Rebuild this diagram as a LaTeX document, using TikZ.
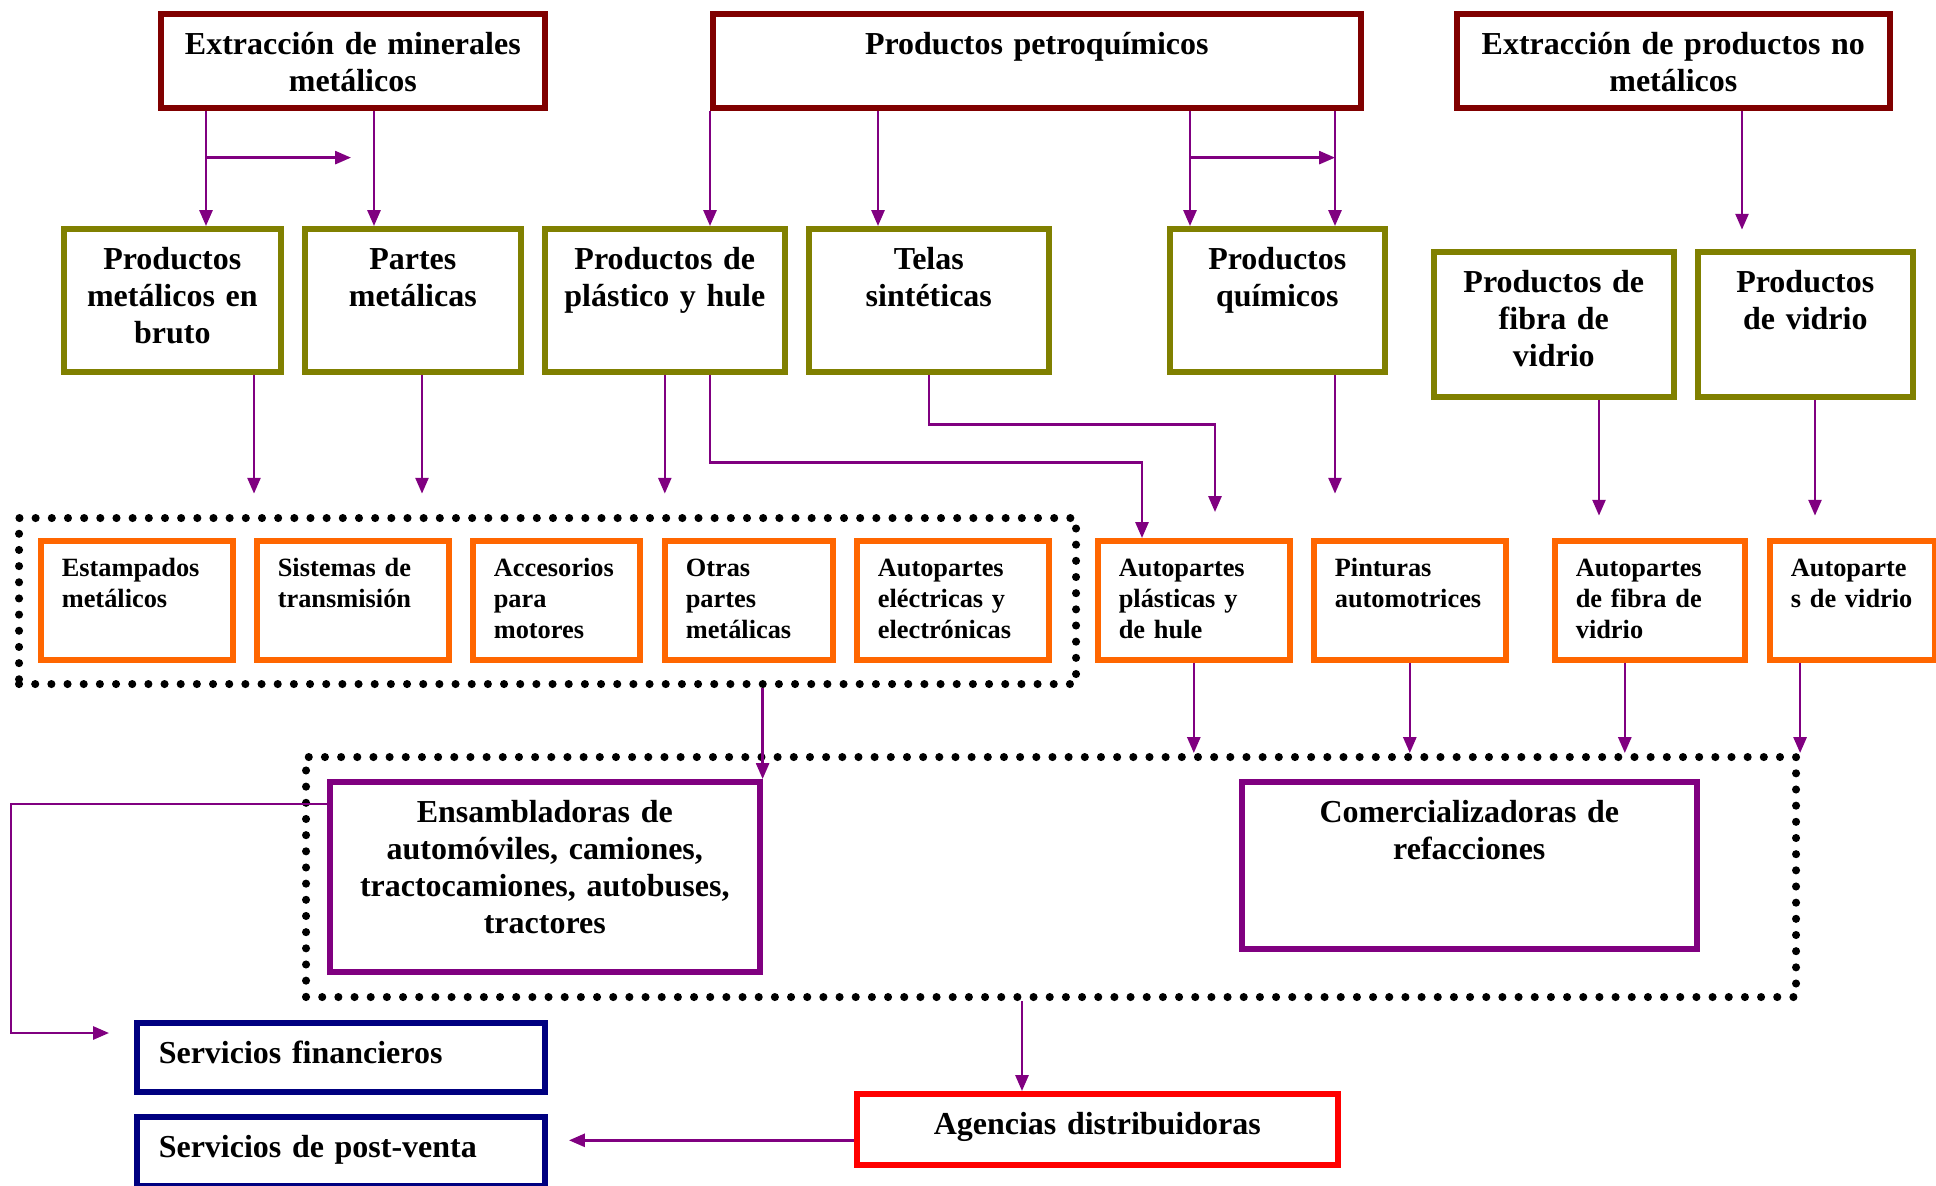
\documentclass[tikz,border=0pt]{standalone}
\usepackage{fontspec}
\setmainfont{Liberation Serif}
\usetikzlibrary{arrows.meta, positioning}

\definecolor{rawc}{HTML}{800000}
\definecolor{interc}{HTML}{808000}
\definecolor{partc}{HTML}{FF6600}
\definecolor{firmc}{HTML}{800080}
\definecolor{servc}{HTML}{000080}
\definecolor{agc}{HTML}{FF0000}
\definecolor{arrc}{HTML}{800080}

\begin{document}
\begin{tikzpicture}[
  every node/.style={font=\bfseries\fontsize{9.1}{10.5}\selectfont},
  box/.style={draw, line width=1.6pt, fill=white, anchor=north west,
              inner xsep=1.5mm, inner ysep=0pt, align=center, text height=4.1mm},
  wh/.style 2 args={minimum width=#1cm,
              text width=#1cm-2*\pgfkeysvalueof{/pgf/inner xsep},
              text depth=#2cm-4.1mm},
  whs/.style 2 args={minimum width=#1cm,
              text width=#1cm-2*\pgfkeysvalueof{/pgf/inner xsep},
              text depth=#2cm-3.6mm},
  rawbox/.style={box, draw=rawc},
  interbox/.style={box, draw=interc},
  partbox/.style={box, draw=partc, align=left, inner xsep=2.1mm, text height=3.6mm,
                  font=\bfseries\fontsize{7.5}{8.8}\selectfont},
  firmbox/.style={box, draw=firmc},
  servbox/.style={box, draw=servc, align=left, inner xsep=2.2mm},
  agbox/.style={box, draw=agc},
  grp/.style={draw, anchor=north west, inner sep=0pt, line width=2.3pt,
              dash pattern=on 0pt off 4.6pt, line cap=round},
  arr/.style={-{Triangle[length=4.5pt, width=3.7pt]}, draw=arrc, line width=0.7pt}
]
\useasboundingbox (0,0) rectangle (19.36,-11.86);

%% ---- GROUPS (dotted) ------------------------------------------
\node[grp, minimum width=10.57cm, minimum height=1.66cm] (grpA) at (0.15,-5.14) {};
\node[grp, minimum width=14.90cm, minimum height=2.40cm] (grpB) at (3.02,-7.53) {};

%% ---- RAW MATERIALS (top row) ----------------------------------
\node[rawbox, wh={3.84}{0.94}] (extMin)   at (1.58,-0.11)  {Extracción de minerales\\metálicos};
\node[rawbox, wh={6.48}{0.94}] (petro)    at (7.10,-0.11)  {Productos petroquímicos};
\node[rawbox, wh={4.33}{0.94}] (extNoMet) at (14.54,-0.11) {Extracción de productos no\\metálicos};

%% ---- INTERMEDIATE PRODUCTS ------------------------------------
\node[interbox, wh={2.17}{1.43}] (prodMet)  at (0.61,-2.26)  {Productos\\metálicos en\\bruto};
\node[interbox, wh={2.16}{1.43}] (partes)   at (3.02,-2.26)  {Partes\\metálicas};
\node[interbox, wh={2.40}{1.43}] (plastico) at (5.42,-2.26)  {Productos de\\plástico y hule};
\node[interbox, wh={2.40}{1.43}] (telas)    at (8.06,-2.26)  {Telas\\sintéticas};
\node[interbox, wh={2.15}{1.43}] (quimicos) at (11.67,-2.26) {Productos\\químicos};
\node[interbox, wh={2.40}{1.45}] (fibra)    at (14.31,-2.49) {Productos de\\fibra de\\vidrio};
\node[interbox, wh={2.15}{1.45}] (vidrio)   at (16.95,-2.49) {Productos\\de vidrio};

%% ---- AUTO PARTS -----------------------------------------------
\node[partbox, whs={1.92}{1.19}] (estamp)  at (0.38,-5.38)  {Estampados\\metálicos};
\node[partbox, whs={1.92}{1.19}] (transm)  at (2.54,-5.38)  {Sistemas de\\transmisión};
\node[partbox, whs={1.67}{1.19}] (acces)   at (4.70,-5.38)  {Accesorios\\para\\motores};
\node[partbox, whs={1.68}{1.19}] (otras)   at (6.62,-5.38)  {Otras\\partes\\metálicas};
\node[partbox, whs={1.92}{1.19}] (electr)  at (8.54,-5.38)  {Autopartes\\eléctricas y\\electrónicas};
\node[partbox, whs={1.92}{1.19}] (aplast)  at (10.95,-5.38) {Autopartes\\plásticas y\\de hule};
\node[partbox, whs={1.92}{1.19}] (pintur)  at (13.11,-5.38) {Pinturas\\automotrices};
\node[partbox, whs={1.90}{1.19}] (afibra)  at (15.52,-5.38) {Autopartes\\de fibra de\\vidrio};
\node[partbox, whs={1.65}{1.19}] (avidrio) at (17.67,-5.38) {Autoparte\\s de vidrio};

%% ---- ASSEMBLY / TRADE / SERVICES ------------------------------
\node[firmbox, wh={4.30}{1.90}] (ensam) at (3.27,-7.79)
  {Ensambladoras de\\automóviles, camiones,\\tractocamiones, autobuses,\\tractores};
\node[firmbox, wh={4.55}{1.67}] (comer) at (12.39,-7.79) {Comercializadoras de\\refacciones};
\node[servbox, wh={4.08}{0.69}] (finan) at (1.34,-10.20) {Servicios financieros};
\node[servbox, wh={4.08}{0.69}] (postv) at (1.34,-11.14) {Servicios de post-venta};
\node[agbox,   wh={4.81}{0.71}] (agenc) at (8.54,-10.91) {Agencias distribuidoras};

%% ---- raw -> intermediate --------------------------------------
\coordinate (mA) at ([xshift=4.8mm]extMin.south west);
\coordinate (mB) at ([xshift=21.6mm]extMin.south west);
\draw[arr] (mA) -- (mA |- prodMet.north);
\draw[arr] (mB) -- (mB |- partes.north);
\draw[arr] ([yshift=-4.7mm]mA) -- ++(1.45,0);

\coordinate (pA) at (petro.south west);
\coordinate (pB) at ([xshift=16.8mm]petro.south west);
\coordinate (pC) at ([xshift=48.0mm]petro.south west);
\coordinate (pD) at ([xshift=62.5mm]petro.south west);
\draw[arr] (pA) -- (pA |- plastico.north);
\draw[arr] (pB) -- (pB |- telas.north);
\draw[arr] (pC) -- (pC |- quimicos.north);
\draw[arr] (pD) -- (pD |- quimicos.north);
\draw[arr] ([yshift=-4.7mm]pC) -- ([yshift=-4.7mm]pD);

\draw[arr] ([xshift=28.8mm]extNoMet.south west) -- ++(0,-1.19);

%% ---- intermediate -> parts ------------------------------------
\draw[arr] ([xshift=19.3mm]prodMet.south west) -- ++(0,-1.19);
\draw[arr] ([xshift=12.0mm]partes.south west) -- ++(0,-1.19);
\draw[arr] (plastico.south) -- ++(0,-1.19);
\draw[arr] ([xshift=16.8mm]plastico.south west) -- ++(0,-0.88)
  -| ([xshift=4.7mm]aplast.north west);
\draw[arr] (telas.south) -- ++(0,-0.50)
  -| ([xshift=12.0mm, yshift=2.6mm]aplast.north west);
\draw[arr] ([xshift=16.8mm]quimicos.south west) -- ++(0,-1.19);
\draw[arr] ([xshift=16.8mm]fibra.south west) -- ++(0,-1.16);
\draw[arr] ([xshift=12.0mm]vidrio.south west) -- ++(0,-1.16);

%% ---- parts -> assembly / trade --------------------------------
\draw[arr] (grpA.south -| ensam.north east) -- (ensam.north east);
\draw[arr] (aplast.south) -- (aplast.south |- grpB.north);
\draw[arr] (pintur.south) -- (pintur.south |- grpB.north);
\coordinate (fA) at ([xshift=-2.5mm]afibra.south);
\draw[arr] (fA) -- (fA |- grpB.north);
\draw[arr] (avidrio.south -| grpB.north east) -- (grpB.north east);

%% ---- distribution and services --------------------------------
\coordinate (agIn) at ([xshift=16.8mm]agenc.north west);
\draw[arr] (agIn |- grpB.south) -- (agIn);
\draw[arr] ([yshift=-1.1mm]agenc.west) -- ++(-2.85,0);
\coordinate (finIn) at ([xshift=-2.5mm, yshift=-1.3mm]finan.north west);
\draw[arr] ([yshift=-2.5mm]ensam.north west) -- ++(-3.16,0) |- (finIn);

\end{tikzpicture}
\end{document}
